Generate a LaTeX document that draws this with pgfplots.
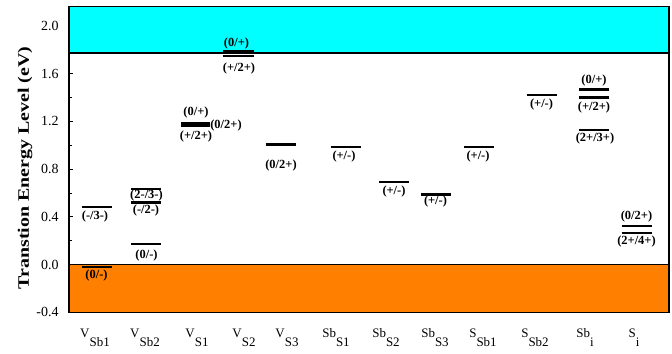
\documentclass[border=0pt]{standalone}
\usepackage{fontspec}
\setmainfont{Liberation Serif}
\usepackage{pgfplots}
\usepackage{pgfplotstable}
\pgfplotsset{compat=1.18}

\definecolor{cbcyan}{RGB}{0,255,255}
\definecolor{vborange}{RGB}{255,128,0}

% defect site label: species with a lowered site index
\newcommand{\site}[2]{#1\raisebox{-9bp}{#2}}

% transition levels: one segment per level, nan rows break the line
\pgfplotstableread{
x     y
0.26  0.483
0.86  0.483
nan   nan
0.26  -0.020
0.86  -0.020
nan   nan
1.24  0.630
1.84  0.630
nan   nan
1.24  0.520
1.84  0.520
nan   nan
1.24  0.170
1.84  0.170
nan   nan
2.24  1.162
2.82  1.162
nan   nan
2.24  1.175
2.82  1.175
nan   nan
2.24  1.188
2.82  1.188
nan   nan
3.07  1.787
3.69  1.787
nan   nan
3.07  1.746
3.69  1.746
nan   nan
3.93  1.006
4.53  1.006
nan   nan
5.23  0.986
5.83  0.986
nan   nan
6.20  0.690
6.80  0.690
nan   nan
7.04  0.587
7.64  0.587
nan   nan
7.89  0.986
8.49  0.986
nan   nan
9.15  1.420
9.75  1.420
nan   nan
10.20 1.467
10.80 1.467
nan   nan
10.20 1.400
10.80 1.400
nan   nan
10.20 1.126
10.80 1.126
nan   nan
11.05 0.324
11.65 0.324
nan   nan
11.05 0.265
11.65 0.265
}\levels

\begin{document}
\begin{tikzpicture}
\begin{axis}[
  name=ax,
  scale only axis,
  width=600bp, height=305.6bp,
  xmin=0, xmax=12, ymin=-0.4, ymax=2.16,
  unbounded coords=jump,
  ytick={-0.4,0.0,0.4,0.8,1.2,1.6,2.0},
  minor ytick={-0.2,0.2,0.6,1.0,1.4,1.8},
  yticklabel style={/pgf/number format/fixed,
    /pgf/number format/fixed zerofill,
    /pgf/number format/precision=1,
    font=\fontsize{14}{16}\selectfont, xshift=-7bp},
  /pgf/number format/assume math mode=true,
  tick align=inside, ytick pos=left,
  major tick length=4.5bp, minor tick length=3.5bp,
  tick style={black, line width=0.8bp},
  xtick={0.52,1.52,2.56,3.50,4.36,5.34,6.34,7.32,8.28,9.32,10.32,11.30},
  xticklabels={\site{V}{Sb1},\site{V}{Sb2},\site{V}{S1},\site{V}{S2},\site{V}{S3},
    \site{Sb}{S1},\site{Sb}{S2},\site{Sb}{S3},\site{S}{Sb1},\site{S}{Sb2},
    \site{Sb}{i},\site{S}{i}},
  xtick style={draw=none},
  xticklabel style={font=\fontsize{13}{15}\selectfont, anchor=north, yshift=-13bp},
  ylabel={\scalebox{1}[0.8]{Transtion Energy Level (eV)}},
  ylabel style={font=\bfseries\fontsize{20}{22}\selectfont,
    at={(axis description cs:-0.0733,0.472)}, anchor=center},
  axis line style={line width=1.2bp},
  axis on top=false,
]
% conduction band
\addplot[fill=cbcyan, draw=none] coordinates {(0,1.774) (12,1.774) (12,2.16) (0,2.16)} -- cycle;
% valence band
\addplot[fill=vborange, draw=none] coordinates {(0,-0.4) (12,-0.4) (12,0) (0,0)} -- cycle;
% band edges
\addplot[black, line width=1.5bp] coordinates {(0,1.774) (12,1.774)};
\addplot[black, line width=1.5bp] coordinates {(0,0) (12,0)};
% transition levels
\addplot[black, line width=2.3bp] table[x=x, y=y] {\levels};
% frame
\addplot[black, line width=1.2bp] coordinates {(0,-0.4) (12,-0.4) (12,2.16) (0,2.16) (0,-0.4)};

% charge-state labels
\begin{scope}[every node/.style={font=\bfseries\fontsize{12.5}{14}\selectfont, inner sep=0pt}]
\node at (axis cs:0.52,0.405) {(-/3-)};
\node at (axis cs:0.55,-0.09) {(0/-)};
\node at (axis cs:1.55,0.575) {(2-/3-)};
\node at (axis cs:1.54,0.449) {(-/2-)};
\node at (axis cs:1.55,0.078) {(0/-)};
\node at (axis cs:2.54,1.271) {(0/+)};
\node at (axis cs:2.54,1.070) {(+/2+)};
\node at (axis cs:3.14,1.168) {(0/2+)};
\node at (axis cs:3.35,1.852) {(0/+)};
\node at (axis cs:3.40,1.643) {(+/2+)};
\node at (axis cs:4.24,0.832) {(0/2+)};
\node at (axis cs:5.50,0.902) {(+/-)};
\node at (axis cs:6.50,0.614) {(+/-)};
\node at (axis cs:7.33,0.530) {(+/-)};
\node at (axis cs:8.18,0.902) {(+/-)};
\node at (axis cs:9.45,1.344) {(+/-)};
\node at (axis cs:10.50,1.545) {(0/+)};
\node at (axis cs:10.50,1.316) {(+/2+)};
\node at (axis cs:10.52,1.056) {(2+/3+)};
\node at (axis cs:11.35,0.399) {(0/2+)};
\node at (axis cs:11.35,0.189) {(2+/4+)};
\end{scope}
\end{axis}
\pgfresetboundingbox
\path[use as bounding box] ([shift={(-69bp,-41.7bp)}]ax.south west) rectangle ([shift={(3bp,6.7bp)}]ax.north east);
\end{tikzpicture}
\end{document}
